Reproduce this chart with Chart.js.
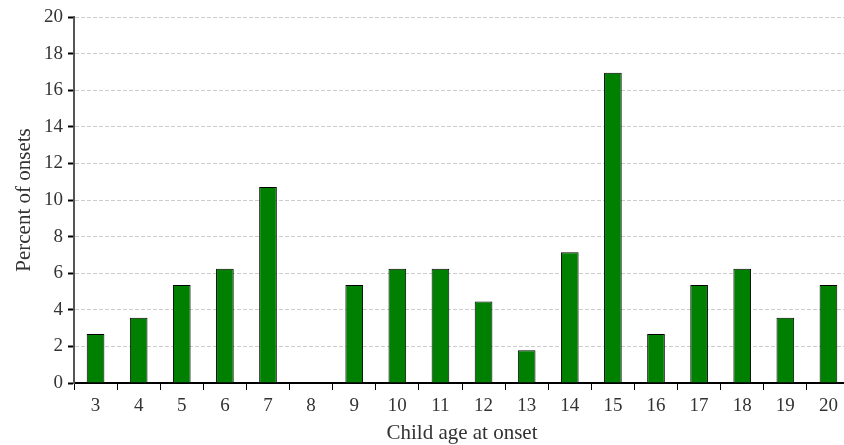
<!DOCTYPE html>
<html>
<head>
<meta charset="utf-8">
<script src="https://cdn.jsdelivr.net/npm/chart.js@4/dist/chart.umd.min.js"></script>
<style>
html,body{margin:0;padding:0;background:#fff;overflow:hidden;width:844px;height:445px;}
#wrap{width:850px;height:445px;position:relative;}
</style>
</head>
<body>
<div id="wrap"><canvas id="c"></canvas></div>
<script>
const ages = ["3","4","5","6","7","8","9","10","11","12","13","14","15","16","17","18","19","20"];
const percentOnsets = [2.68,3.57,5.36,6.25,10.71,0,5.36,6.25,6.25,4.46,1.79,7.14,16.96,2.68,5.36,6.25,3.57,5.36];
const yTicks = [0,2,4,6,8,10,12,14,16,18,20];

const fam = "'Liberation Serif', 'Times New Roman', serif";
const tickFont = {family: fam, size: 19};
const titleFont = {family: fam, size: 21};

new Chart(document.getElementById('c'), {
  type: 'bar',
  data: {
    labels: ages,
    datasets: [{
      data: percentOnsets,
      backgroundColor: '#008000',
      borderColor: '#000000',
      borderWidth: 1,
      barPercentage: 0.41,
      categoryPercentage: 1.0
    }]
  },
  options: {
    responsive: true,
    maintainAspectRatio: false,
    animation: false,
    layout: {padding: {top: 17, right: 0, left: 0, bottom: 0}},
    plugins: {legend: {display: false}, tooltip: {enabled: false}},
    scales: {
      x: {
        afterFit: (a) => { a.height = 62; },
        grid: {offset: true, drawOnChartArea: false, tickLength: 7, tickColor: '#000', lineWidth: 1},
        border: {color: '#000', width: 2},
        ticks: {color: '#333', font: tickFont, padding: 5},
        title: {display: true, text: 'Child age at onset', color: '#333', font: titleFont, padding: {top: 0, bottom: -1}}
      },
      y: {
        min: 0, max: 20,
        afterFit: (a) => { a.width = 74; },
        afterBuildTicks: (axis) => { axis.ticks = yTicks.map(v => ({value: v})); },
        grid: {color: '#cccccc', tickLength: 6, tickColor: '#000', tickBorderDash: [], tickWidth: 2},
        border: {color: '#555', width: 2, dash: [4,2]},
        ticks: {color: '#333', font: tickFont, padding: 5},
        title: {display: true, text: 'Percent of onsets', color: '#333', font: titleFont, padding: {top: 12, bottom: 0}}
      }
    }
  }
});
</script>
</body>
</html>
